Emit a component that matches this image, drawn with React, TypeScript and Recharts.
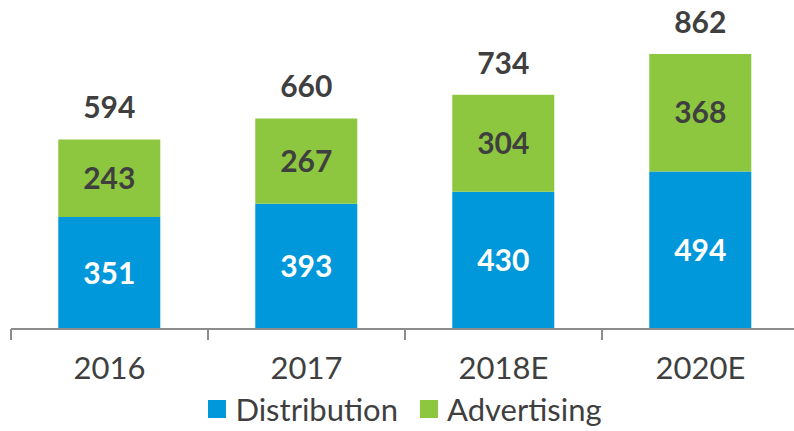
import React from "react";
import { BarChart, Bar, XAxis, YAxis, Legend, LabelList } from "recharts";

const years = ["2016", "2017", "2018E", "2020E"];
const distribution = [351, 393, 430, 494];
const advertising = [243, 267, 304, 368];
const seriesOrder = ["Distribution", "Advertising"];

const data = years.map((year, i) => ({
  year,
  distribution: distribution[i],
  advertising: advertising[i],
  total: distribution[i] + advertising[i],
}));

const BLUE = "#0098DB";
const GREEN = "#8DC63F";
const TEXT = "#3F3F3F";
const AXIS = "#8C8C8C";
const FONT = "Lato, 'Open Sans', sans-serif";

// tick label plus a tick mark on the left edge of each category band
const CategoryTick = (props: any) => {
  const { x, y, payload, width } = props;
  const half = width / years.length / 2;
  return (
    <g>
      <line x1={x - half} x2={x - half} y1={y} y2={y + 11} stroke={AXIS} strokeWidth={2} />
      <text x={x} y={y + 42} textAnchor="middle" dominantBaseline="middle" fontSize={31} fill={TEXT} fontFamily={FONT}>
        {payload.value}
      </text>
    </g>
  );
};

const TotalLabel = (props: any) => {
  const { x, y, width, index } = props;
  return (
    <text x={x + width / 2} y={y - 29} textAnchor="middle" dominantBaseline="middle" fontSize={30} fontWeight="bold" fill={TEXT} fontFamily={FONT}>
      {data[index].total}
    </text>
  );
};

const renderLegend = (props: any) => {
  const items = [...props.payload].sort(
    (a: any, b: any) => seriesOrder.indexOf(a.value) - seriesOrder.indexOf(b.value)
  );
  return (
    <div style={{ display: "flex", justifyContent: "center", gap: 22, height: 44, alignItems: "center", fontFamily: FONT }}>
      {items.map((entry: any, i: number) => (
        <div key={`legend-${i}`} style={{ display: "flex", alignItems: "center" }}>
          <div style={{ width: 18, height: 18, background: entry.color, marginRight: 9 }} />
          <span style={{ fontSize: 31, color: TEXT, lineHeight: "36px" }}>{entry.value}</span>
        </div>
      ))}
    </div>
  );
};

export default function App() {
  return (
    <div style={{ position: "absolute", left: 0, top: 0, width: 794, height: 431, overflow: "hidden", background: "#fff" }}>
      <BarChart width={800} height={431} data={data} margin={{ top: 10, right: 1, bottom: 0, left: 11 }} barCategoryGap="24%">
        <XAxis
          dataKey="year"
          axisLine={{ stroke: AXIS, strokeWidth: 2 }}
          tickLine={false}
          tickSize={0}
          tickMargin={0}
          height={58}
          tick={<CategoryTick />}
          interval={0}
        />
        <YAxis hide domain={[0, 1000]} />
        <Legend content={renderLegend} verticalAlign="bottom" />
        <Bar dataKey="distribution" name="Distribution" stackId="a" fill={BLUE} isAnimationActive={false}>
          <LabelList dataKey="distribution" position="center" fill="#fff" fontSize={30} fontWeight="bold" fontFamily={FONT} />
        </Bar>
        <Bar dataKey="advertising" name="Advertising" stackId="a" fill={GREEN} isAnimationActive={false}>
          <LabelList dataKey="advertising" position="center" fill={TEXT} fontSize={30} fontWeight="bold" fontFamily={FONT} />
          <LabelList dataKey="total" content={<TotalLabel />} />
        </Bar>
      </BarChart>
    </div>
  );
}
